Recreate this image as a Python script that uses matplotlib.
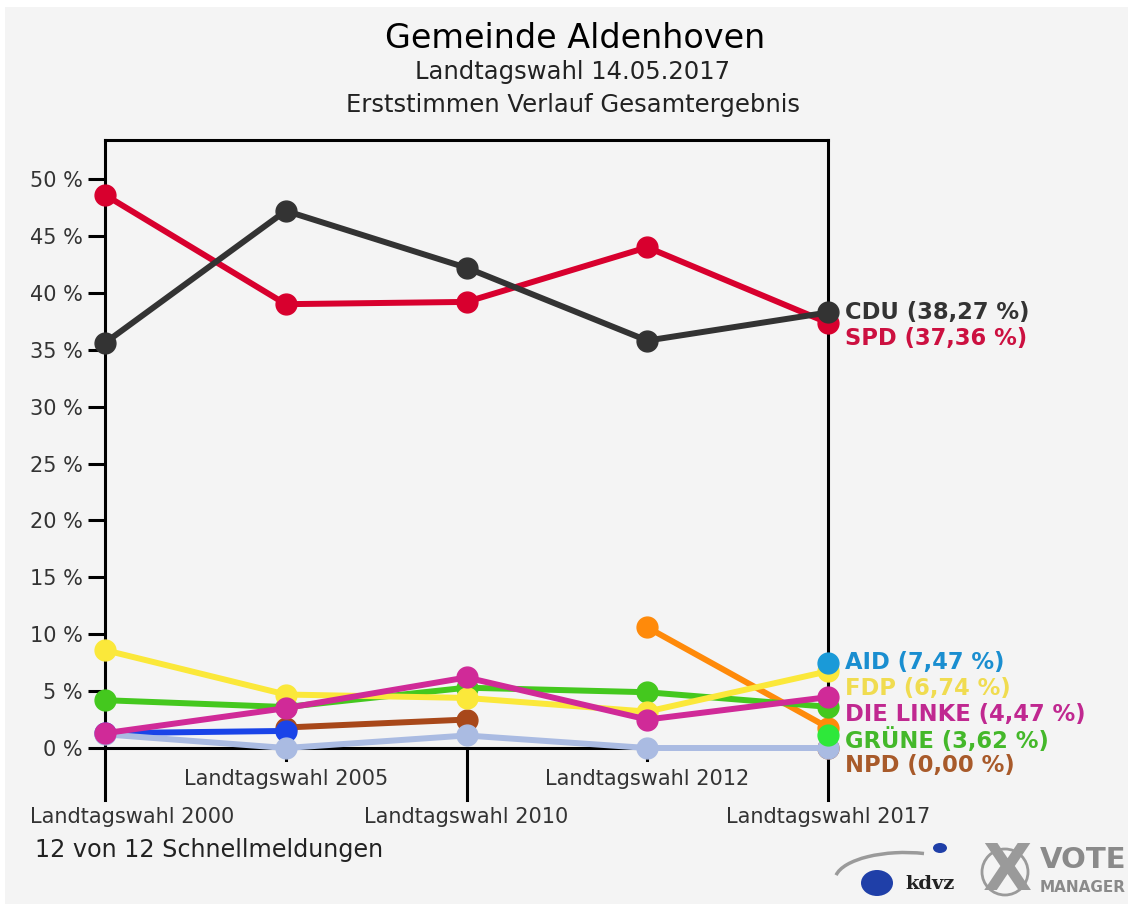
import numpy as np
import matplotlib
matplotlib.use("Agg")
import matplotlib.pyplot as plt
from matplotlib.patches import Rectangle, Ellipse, Arc

# --- Data ---
elections = ["Landtagswahl 2000", "Landtagswahl 2005", "Landtagswahl 2010",
             "Landtagswahl 2012", "Landtagswahl 2017"]
nan = np.nan
cdu = [35.6, 47.2, 42.2, 35.8, 38.27]
spd = [48.6, 39.0, 39.2, 44.0, 37.36]
fdp = [8.6, 4.7, 4.4, 3.2, 6.74]
gruene = [4.2, 3.6, 5.3, 4.9, 3.62]
linke = [1.3, 3.5, 6.2, 2.5, 4.47]
npd = [nan, 1.8, 2.5, nan, 0.00]
aid = [nan, nan, nan, nan, 7.47]
piraten = [nan, nan, nan, 10.6, 1.8]
sonst_blau = [1.3, 1.5, nan, nan, nan]
sonst_hell = [1.2, 0.0, 1.1, 0.0, 0.0]
sonst_gruen = [nan, nan, nan, nan, 1.1]

# drawing order (bottom first): (values, line colour)
series = [
    (npd, "#a8481a"),
    (sonst_blau, "#1a44e8"),
    (sonst_hell, "#aabbe2"),
    (piraten, "#ff8a0a"),
    (sonst_gruen, "#2ee83a"),
    (gruene, "#44c81e"),
    (fdp, "#fbe83a"),
    (linke, "#d02a98"),
    (aid, "#1a9ad8"),
    (spd, "#d8002e"),
    (cdu, "#333333"),
]

# label groups at the right edge
top_labels = [("CDU", cdu, "#333333"), ("SPD", spd, "#cc1040")]
low_labels = [("AID", aid, "#1a8ed0"), ("FDP", fdp, "#f0dc50"),
              ("DIE LINKE", linke, "#c02890"), ("GRÜNE", gruene, "#44b82a"),
              ("NPD", npd, "#a85a2a")]

W, H = 1133, 911
fig = plt.figure(figsize=(W / 100, H / 100), dpi=100, facecolor="white")
fig.patches.append(Rectangle((5 / W, 7 / H), (W - 10) / W, (H - 14) / H,
                             transform=fig.transFigure, facecolor="#f4f4f4",
                             edgecolor="none", zorder=-5))

# axes: x=0 at px 105, x=4 at px 828; 0 % at py 748, top frame at py 140
left, right, bottom_px, top_px = 105, 828, 748, 140
ax = fig.add_axes([left / W, (H - bottom_px) / H, (right - left) / W,
                   (bottom_px - top_px) / H])
ax.set_facecolor("none")
ymax = (bottom_px - top_px) / (569 / 50)
ax.set_xlim(0, 4)
ax.set_ylim(0, ymax)

x = np.arange(len(elections))
for vals, col in series:
    ax.plot(x, vals, color=col, lw=4.3, marker="o", ms=15,
            solid_capstyle="round", clip_on=False, zorder=3)

for s in ax.spines.values():
    s.set_linewidth(2.2)
    s.set_color("black")
    s.set_zorder(2)

ax.set_yticks(np.arange(0, 55, 5))
ax.set_yticklabels([f"{v} %" for v in range(0, 55, 5)])
ax.tick_params(axis="y", length=12, width=2.2, direction="out", pad=4,
               labelsize=15, labelcolor="#333333")
ax.set_xticks([])

# category ticks and labels below the axis (staggered)
px = ymax / (bottom_px - top_px)
for i, name in enumerate(elections):
    long_tick = (i % 2 == 0)
    ax.plot([i, i], [0, (-52 if long_tick else -12) * px], color="black",
            lw=2.2, clip_on=False, zorder=2)
    if i == 0:
        # first label is pushed inside the picture
        ax.annotate(name, xy=(0, -69 * px), xytext=(-54, 0),
                    textcoords="offset points", ha="left", va="center",
                    fontsize=15, color="#333333", annotation_clip=False)
    else:
        ax.text(i, (-69 if long_tick else -31) * px, name, ha="center",
                va="center", fontsize=15, color="#333333")


def fmt(v):
    return f"{v:.2f}".replace(".", ",")


for group in (top_labels, low_labels):
    start = group[0][1][-1]
    for k, (name, vals, col) in enumerate(group):
        ax.annotate(f"{name} ({fmt(vals[-1])} %)", xy=(4, start),
                    xytext=(12, -k * 18.5), textcoords="offset points",
                    ha="left", va="center", fontsize=16.3, fontweight="bold",
                    color=col, annotation_clip=False)

# titles
fig.text(575 / W, 1 - 38 / H, "Gemeinde Aldenhoven", ha="center", va="center",
         fontsize=24, color="black")
fig.text(573 / W, 1 - 72 / H, "Landtagswahl 14.05.2017", ha="center", va="center",
         fontsize=17.5, color="#222222")
fig.text(573 / W, 1 - 105 / H, "Erststimmen Verlauf Gesamtergebnis", ha="center",
         va="center", fontsize=17.5, color="#222222")
fig.text(35 / W, 1 - 850 / H, "12 von 12 Schnellmeldungen", ha="left", va="center",
         fontsize=17.2, color="#222222")

# logos (rough)
fig.patches.append(Arc((905 / W, 1 - 880 / H), 140 / W, 55 / H, theta1=60, theta2=175,
                       transform=fig.transFigure, color="#9a9a9a", lw=2.5, zorder=4))
fig.patches.append(Ellipse((877 / W, 1 - 883 / H), 32 / W, 26 / H,
                           transform=fig.transFigure, facecolor="#1f3fa8",
                           edgecolor="none", zorder=5))
fig.patches.append(Ellipse((940 / W, 1 - 848 / H), 14 / W, 10 / H,
                           transform=fig.transFigure, facecolor="#1f3fa8",
                           edgecolor="none", zorder=5))
fig.text(905 / W, 1 - 884 / H, "kdvz", ha="left", va="center", fontsize=14,
         fontweight="bold", family="DejaVu Serif", color="#222222")
fig.patches.append(Ellipse((1005 / W, 1 - 872 / H), 46 / W, 46 / H,
                           transform=fig.transFigure, facecolor="none",
                           edgecolor="#9a9a9a", lw=2, zorder=4))
fig.text(1007 / W, 1 - 872 / H, "X", ha="center", va="center", fontsize=46,
         fontweight="bold", color="#8a8a8a", alpha=0.85)
fig.text(1040 / W, 1 - 860 / H, "VOTE", ha="left", va="center", fontsize=21,
         fontweight="bold", color="#8a8a8a")
fig.text(1040 / W, 1 - 888 / H, "MANAGER", ha="left", va="center", fontsize=11,
         fontweight="bold", color="#8a8a8a")

fig.savefig("out.png", dpi=100, facecolor=fig.get_facecolor())
